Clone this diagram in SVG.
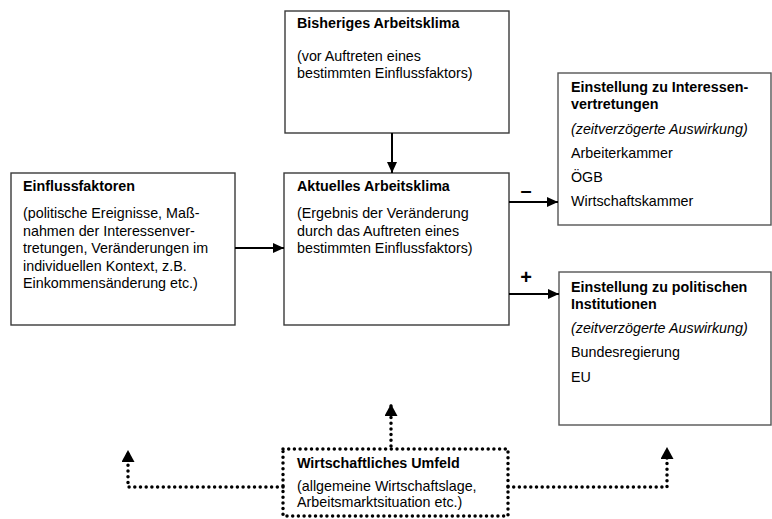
<svg xmlns="http://www.w3.org/2000/svg" width="772" height="519" viewBox="0 0 772 519">
<defs>
<style>
.box{fill:#fff;stroke:#3a3a3a;stroke-width:1.4}
.rbox{fill:#fff;stroke:#555;stroke-width:1.4}
.dbox{fill:none;stroke:#000;stroke-width:3.5;stroke-linecap:round;stroke-dasharray:0 5.7}
.t{font-family:"Liberation Sans",Arial,sans-serif;font-size:14.3px;fill:#000}
.b{font-weight:bold}
.i{font-style:italic}
.arr{fill:none;stroke:#000;stroke-width:2}
.dot{fill:none;stroke:#000;stroke-width:3.5;stroke-linecap:round;stroke-dasharray:0 5.7}
.sign{font-family:"Liberation Sans",Arial,sans-serif;font-weight:bold;font-size:20px;fill:#000;text-anchor:middle}
</style>
<marker id="ah" markerUnits="userSpaceOnUse" markerWidth="11" markerHeight="10" refX="11" refY="5" orient="auto">
<path d="M0,0 L11,5 L0,10 z" fill="#000"/>
</marker>
<marker id="dh" markerUnits="userSpaceOnUse" markerWidth="12" markerHeight="13" refX="12" refY="6.5" orient="auto">
<path d="M0,0 L12,6.5 L0,13 z" fill="#000"/>
</marker>
</defs>
<rect width="772" height="519" fill="#fff"/>

<g id="bisheriges">
<rect class="box" x="285" y="11" width="224" height="122"/>
<text class="t b" x="297" y="28">Bisheriges Arbeitsklima</text>
<text class="t" x="297" y="61">(vor Auftreten eines</text>
<text class="t" x="297" y="78">bestimmten Einflussfaktors)</text>
</g>

<g id="einfluss">
<rect class="box" x="11" y="173" width="224" height="152"/>
<text class="t b" x="23" y="191">Einflussfaktoren</text>
<text class="t" x="23" y="218">(politische Ereignisse, Maß-</text>
<text class="t" x="23" y="235.5">nahmen der Interessenver-</text>
<text class="t" x="23" y="253">tretungen, Veränderungen im</text>
<text class="t" x="23" y="270.5">individuellen Kontext, z.B.</text>
<text class="t" x="23" y="288">Einkommensänderung etc.)</text>
</g>

<g id="aktuelles">
<rect class="box" x="284" y="173" width="225" height="152"/>
<text class="t b" x="297" y="191">Aktuelles Arbeitsklima</text>
<text class="t" x="297" y="218">(Ergebnis der Veränderung</text>
<text class="t" x="297" y="235.5">durch das Auftreten eines</text>
<text class="t" x="297" y="253">bestimmten Einflussfaktors)</text>
</g>

<g id="interessen">
<rect class="rbox" x="558" y="73" width="213" height="152"/>
<text class="t b" x="571" y="92">Einstellung zu Interessen-</text>
<text class="t b" x="571" y="109">vertretungen</text>
<text class="t i" x="571" y="134">(zeitverzögerte Auswirkung)</text>
<text class="t" x="571" y="158">Arbeiterkammer</text>
<text class="t" x="571" y="182">ÖGB</text>
<text class="t" x="571" y="206">Wirtschaftskammer</text>
</g>

<g id="politisch">
<rect class="rbox" x="559" y="272" width="212" height="153"/>
<text class="t b" x="571" y="292">Einstellung zu politischen</text>
<text class="t b" x="571" y="309">Institutionen</text>
<text class="t i" x="571" y="333">(zeitverzögerte Auswirkung)</text>
<text class="t" x="571" y="357">Bundesregierung</text>
<text class="t" x="571" y="382">EU</text>
</g>

<g id="umfeld">
<rect class="dbox" x="283" y="449" width="225" height="67"/>
<text class="t b" x="297" y="468">Wirtschaftliches Umfeld</text>
<text class="t" x="297" y="491">(allgemeine Wirtschaftslage,</text>
<text class="t" x="297" y="507">Arbeitsmarktsituation etc.)</text>
</g>

<g id="connectors">
<line class="arr" x1="392" y1="133" x2="392" y2="173" marker-end="url(#ah)"/>
<line class="arr" x1="235" y1="248" x2="284" y2="248" marker-end="url(#ah)"/>
<line class="arr" x1="509" y1="202" x2="558" y2="202" marker-end="url(#ah)"/>
<line class="arr" x1="509" y1="294" x2="559" y2="294" marker-end="url(#ah)"/>
<text class="sign" x="526" y="197">–</text>
<text class="sign" x="526" y="284">+</text>
<path class="dot" d="M391,446 L391,404" marker-end="url(#dh)"/>
<path class="dot" d="M283,487 L128,487 L128,450" marker-end="url(#dh)"/>
<path class="dot" d="M508,487 L667,487 L667,447" marker-end="url(#dh)"/>
</g>
</svg>
